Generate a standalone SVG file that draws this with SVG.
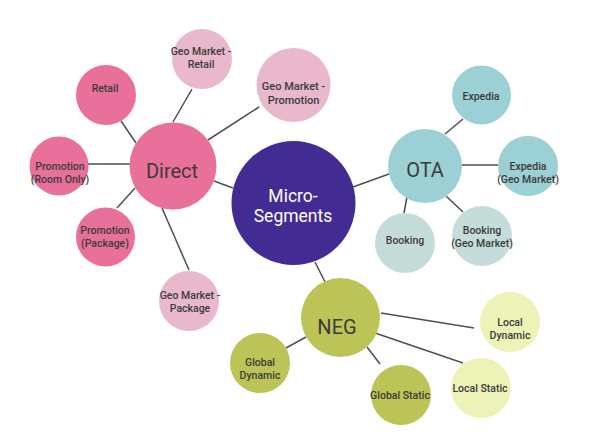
<svg xmlns="http://www.w3.org/2000/svg" width="595" height="440" viewBox="0 0 595 440">
<style>
text{font-family:Roboto,"Liberation Sans",sans-serif;fill:#3b3b3b;text-anchor:middle;dominant-baseline:central;font-weight:500}
.s{font-size:10.5px}
.m{font-size:11px}
.b{font-size:20px;font-weight:400}
.w{fill:#ffffff;font-size:17.5px;font-weight:400}
.pink{fill:#E8709A}
.lpink{fill:#E9B8CC}
.purple{fill:#432B94}
.teal{fill:#9BD0D4}
.lteal{fill:#C5DDDA}
.olive{fill:#BCC457}
.lolive{fill:#EDF3B7}
#connectors line{stroke:#4f4f4f;stroke-width:1.5}
</style>
<rect width="595" height="440" fill="#ffffff"/>
<g id="connectors">
<line x1="121" y1="121" x2="136" y2="143"/>
<line x1="173" y1="122" x2="192" y2="89"/>
<line x1="208" y1="140" x2="259" y2="107"/>
<line x1="88" y1="164" x2="130" y2="164"/>
<line x1="117" y1="208" x2="135" y2="188"/>
<line x1="162" y1="208" x2="189" y2="270"/>
<line x1="214" y1="181" x2="233" y2="188"/>
<line x1="353" y1="187" x2="389" y2="174"/>
<line x1="315" y1="262" x2="325" y2="282"/>
<line x1="445" y1="134" x2="463" y2="119"/>
<line x1="462" y1="165" x2="498" y2="165"/>
<line x1="407" y1="197" x2="404" y2="213"/>
<line x1="446" y1="196" x2="463" y2="212"/>
<line x1="381" y1="313" x2="474" y2="328"/>
<line x1="375" y1="333" x2="463" y2="363"/>
<line x1="367" y1="347" x2="380" y2="364"/>
<line x1="306" y1="337" x2="286" y2="348"/>
</g>
<g id="direct"><circle class="pink" cx="173" cy="166" r="43.5"/><text class="b" x="172" y="171">Direct</text></g>
<g id="retail"><circle class="pink" cx="106" cy="95" r="30"/><text class="s" x="105" y="88">Retail</text></g>
<g id="geo-retail"><circle class="lpink" cx="202" cy="59" r="30"/><text class="s" x="201" y="51.25">Geo Market -<tspan x="201" dy="12.5">Retail</tspan></text></g>
<g id="geo-promotion"><circle class="lpink" cx="293.5" cy="85" r="37"/><text class="m" x="293.5" y="86.9">Geo Market -<tspan x="293.5" dy="13.2">Promotion</tspan></text></g>
<g id="promotion-room"><circle class="pink" cx="59" cy="166" r="29.5"/><text class="s" x="60" y="166">Promotion<tspan x="60" dy="13">(Room Only)</tspan></text></g>
<g id="promotion-package"><circle class="pink" cx="105.5" cy="237" r="29.5"/><text class="s" x="105" y="230.75">Promotion<tspan x="105" dy="12.5">(Package)</tspan></text></g>
<g id="geo-package"><circle class="lpink" cx="189" cy="301" r="30"/><text class="s" x="190" y="295.75">Geo Market -<tspan x="190" dy="12.5">Package</tspan></text></g>
<g id="micro"><circle class="purple" cx="293.5" cy="203" r="62"/><text class="w" x="293" y="195.75">Micro-<tspan x="293" dy="20.5">Segments</tspan></text></g>
<g id="ota"><circle class="teal" cx="425" cy="166" r="37"/><text class="b" x="425" y="170">OTA</text></g>
<g id="expedia"><circle class="teal" cx="481.5" cy="95" r="29.5"/><text class="s" x="481" y="96">Expedia</text></g>
<g id="expedia-geo"><circle class="teal" cx="528" cy="166" r="30"/><text class="s" x="528" y="166.25">Expedia<tspan x="528" dy="12.5">(Geo Market)</tspan></text></g>
<g id="booking"><circle class="lteal" cx="405" cy="243" r="30"/><text class="s" x="405" y="240">Booking</text></g>
<g id="booking-geo"><circle class="lteal" cx="482" cy="236" r="30"/><text class="s" x="482" y="230.75">Booking<tspan x="482" dy="12.5">(Geo Market)</tspan></text></g>
<g id="neg"><circle class="olive" cx="340.5" cy="317.5" r="39.5"/><text class="b" x="337" y="327">NEG</text></g>
<g id="global-dynamic"><circle class="olive" cx="260" cy="363" r="30"/><text class="s" x="260" y="362.75">Global<tspan x="260" dy="12.5">Dynamic</tspan></text></g>
<g id="global-static"><circle class="olive" cx="401" cy="395" r="30"/><text class="s" x="400" y="395">Global Static</text></g>
<g id="local-dynamic"><circle class="lolive" cx="510" cy="322" r="30"/><text class="s" x="510" y="322.25">Local<tspan x="510" dy="12.5">Dynamic</tspan></text></g>
<g id="local-static"><circle class="lolive" cx="481" cy="388" r="30"/><text class="s" x="480" y="388">Local Static</text></g>
</svg>
